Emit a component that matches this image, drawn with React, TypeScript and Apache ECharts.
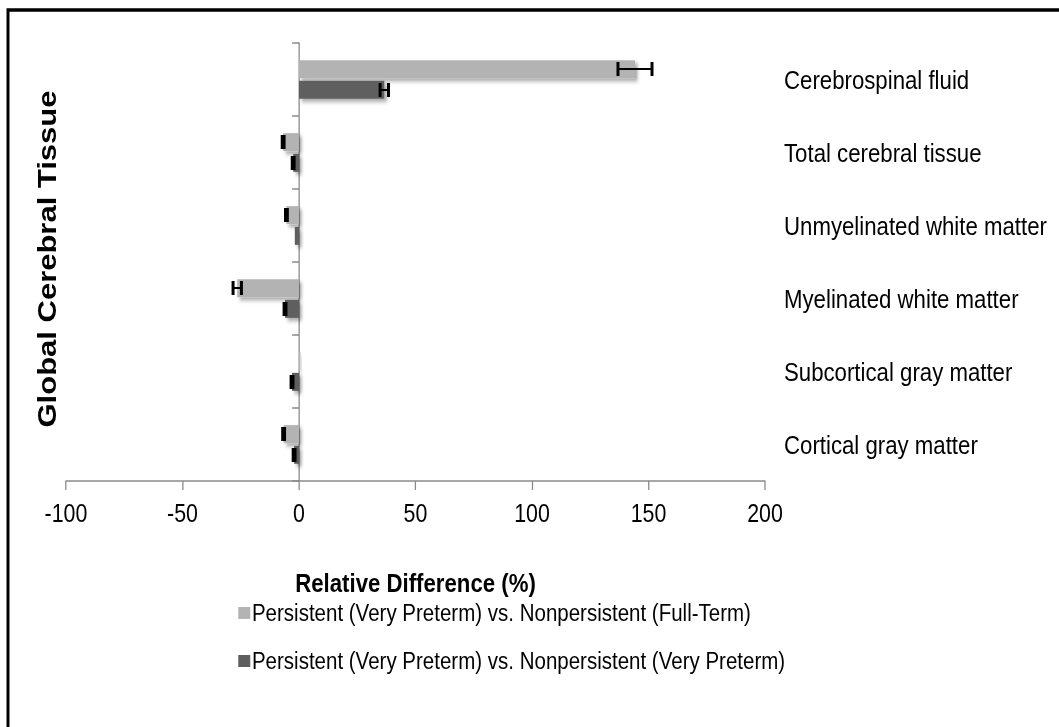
import React, { useEffect, useRef } from "react";
import * as echarts from "echarts";

const categories = [
  "Cerebrospinal fluid",
  "Total cerebral tissue",
  "Unmyelinated white matter",
  "Myelinated white matter",
  "Subcortical gray matter",
  "Cortical gray matter",
];
const seriesNames = [
  "Persistent (Very Preterm) vs. Nonpersistent (Full-Term)",
  "Persistent (Very Preterm) vs. Nonpersistent (Very Preterm)",
];
const fullTermValues = [144.2, -6.8, -5.4, -26.5, 0.6, -6.6];
const fullTermErrors = [7.3, 0.4, 0.4, 1.8, 0, 0.4];
const veryPretermValues = [36.6, -2.5, -1.8, -6, -3, -2.1];
const veryPretermErrors = [1.8, 0.4, 0, 0.4, 0.4, 0.4];
const xTicks = { min: -100, max: 200, interval: 50 };

// The reference picture is horizontally compressed; we draw wider and squeeze with CSS.
const VIEW_W = 1059;
const VIEW_H = 727;
const CHART_W = 1239;
const K = VIEW_W / CHART_W;
const sx = (px: number) => px / K;

const FONT = '"Liberation Sans", Arial, Helvetica, sans-serif';

function errorSeries(values: number[], errors: number[], offset: number) {
  return {
    type: "custom",
    z: 5,
    silent: true,
    encode: { x: 1, y: 0 },
    data: categories.map((_, i) => [i, values[i], errors[i]]),
    renderItem: (params: any, api: any) => {
      const idx = api.value(0);
      const v = api.value(1);
      const e = api.value(2);
      if (!e) return null;
      const lo = api.coord([v - e, idx]);
      const hi = api.coord([v + e, idx]);
      const y = lo[1] + offset;
      const h = 7;
      const st = { stroke: "#000", lineWidth: 2 };
      const cap = { stroke: "#000", lineWidth: 3.5 };
      return {
        type: "group",
        children: [
          { type: "line", shape: { x1: lo[0], y1: y, x2: hi[0], y2: y }, style: st },
          { type: "line", shape: { x1: lo[0], y1: y - h, x2: lo[0], y2: y + h }, style: cap },
          { type: "line", shape: { x1: hi[0], y1: y - h, x2: hi[0], y2: y + h }, style: cap },
        ],
      };
    },
  };
}

export default function App() {
  const ref = useRef<HTMLDivElement>(null);
  useEffect(() => {
    if (!ref.current) return;
    const chart = echarts.init(ref.current, undefined, { renderer: "svg" });
    const barShadow = {
      shadowColor: "rgba(0,0,0,0.35)",
      shadowBlur: 4,
      shadowOffsetX: 3,
      shadowOffsetY: 3,
    };
    chart.setOption({
      animation: false,
      backgroundColor: "#fff",
      grid: { left: sx(66), right: CHART_W - sx(765), top: 43, bottom: 246, containLabel: false },
      legend: {
        orient: "vertical",
        left: sx(234),
        top: 596,
        itemGap: 24,
        itemWidth: 14,
        itemHeight: 12,
        icon: "rect",
        data: seriesNames,
        textStyle: { fontFamily: FONT, fontSize: 24, color: "#000", padding: [0, 0, 0, -3] },
      },
      xAxis: {
        type: "value",
        min: xTicks.min,
        max: xTicks.max,
        interval: xTicks.interval,
        splitLine: { show: false },
        axisLine: { show: true, onZero: false, lineStyle: { color: "#8a8a8a", width: 1.5 } },
        axisTick: { show: true, length: 9, lineStyle: { color: "#8a8a8a", width: 1.5 } },
        axisLabel: { fontFamily: FONT, fontSize: 25, color: "#000", margin: 20 },
        name: "Relative Difference (%)",
        nameLocation: "middle",
        nameGap: 89,
        nameTextStyle: { fontFamily: FONT, fontSize: 26, fontWeight: "bold", color: "#000" },
      },
      yAxis: [
        {
          type: "category",
          data: categories,
          inverse: true,
          axisLine: { show: true, onZero: true, lineStyle: { color: "#8a8a8a", width: 1.5 } },
          axisTick: { show: true, length: 8, lineStyle: { color: "#8a8a8a", width: 1.5 } },
          axisLabel: { show: false },
        },
        {
          type: "category",
          data: categories,
          inverse: true,
          position: "right",
          axisLine: { show: false },
          axisTick: { show: false },
          axisLabel: {
            show: true,
            fontFamily: FONT,
            fontSize: 26,
            color: "#000",
            margin: sx(19),
            align: "left",
          },
        },
      ],
      series: [
        {
          name: seriesNames[0],
          type: "bar",
          data: fullTermValues,
          barWidth: 18,
          barGap: "15%",
          itemStyle: { color: "#b3b3b3", ...barShadow },
        },
        {
          name: seriesNames[1],
          type: "bar",
          data: veryPretermValues,
          barWidth: 18,
          barGap: "15%",
          itemStyle: { color: "#5e5e5e", ...barShadow },
        },
        errorSeries(fullTermValues, fullTermErrors, -10.5),
        errorSeries(veryPretermValues, veryPretermErrors, 10.5),
      ],
      graphic: [
        {
          type: "rect",
          shape: { x: sx(8), y: 10, width: 1400, height: 900 },
          style: { fill: "none", stroke: "#000", lineWidth: 3.5 },
          silent: true,
        },
        {
          type: "text",
          x: sx(47),
          y: 259,
          rotation: Math.PI / 2,
          style: {
            text: "Global Cerebral Tissue",
            fontFamily: FONT,
            fontWeight: "bold",
            fontSize: 31,
            fill: "#000",
            align: "center",
            verticalAlign: "middle",
          },
        },
      ],
    });
    return () => chart.dispose();
  }, []);
  return (
    <div
      style={{
        position: "absolute",
        left: 0,
        top: 0,
        width: VIEW_W,
        height: VIEW_H,
        overflow: "hidden",
        background: "#fff",
      }}
    >
      <div
        ref={ref}
        style={{
          width: CHART_W,
          height: VIEW_H,
          transform: `scaleX(${K})`,
          transformOrigin: "0 0",
        }}
      />
    </div>
  );
}
